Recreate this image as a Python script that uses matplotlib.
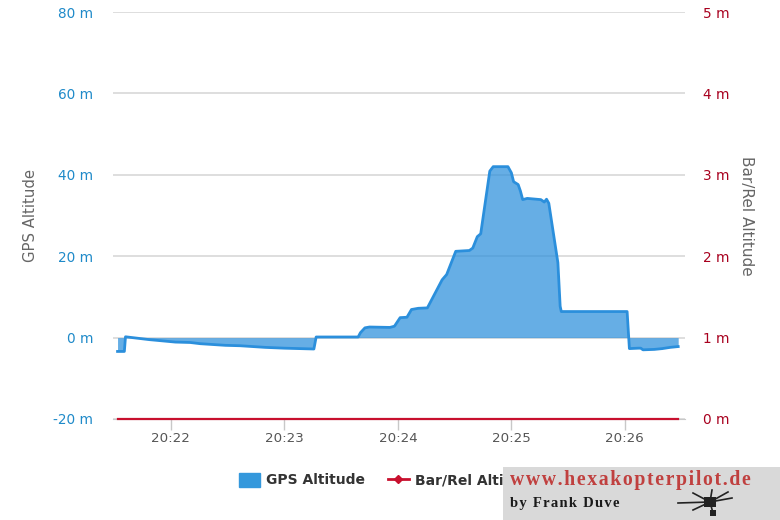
import matplotlib
matplotlib.use("Agg")
import matplotlib.pyplot as plt
from matplotlib.lines import Line2D
from matplotlib.patches import Patch, Rectangle, Circle

# minutes after 20:00
gps_time = [21.53, 21.59, 21.60, 21.81, 22.04, 22.17, 22.26, 22.48, 22.61, 22.83,
            23.00, 23.26, 23.28, 23.65, 23.67, 23.71, 23.75, 23.93, 23.97, 24.02,
            24.08, 24.12, 24.18, 24.26, 24.39, 24.43, 24.51, 24.63, 24.66, 24.70,
            24.73, 24.81, 24.84, 24.97, 25.00, 25.02, 25.06, 25.08, 25.10, 25.14,
            25.26, 25.29, 25.31, 25.33, 25.41, 25.43, 25.44, 26.02, 26.04, 26.12,
            26.14, 26.16, 26.26, 26.33, 26.40, 26.47]
gps_alt = [-3.4, -3.4, 0.2, -0.5, -1.1, -1.2, -1.5, -1.9, -2.0, -2.4,
           -2.6, -2.8, 0.15, 0.15, 1.2, 2.4, 2.6, 2.5, 2.8, 4.9,
           5.0, 6.9, 7.2, 7.3, 14.2, 15.5, 21.2, 21.4, 22.0, 24.8,
           25.5, 40.9, 42.0, 42.0, 40.5, 38.3, 37.6, 36.0, 33.9, 34.2,
           33.9, 33.3, 34.0, 33.0, 18.4, 7.7, 6.4, 6.4, -2.7, -2.6,
           -2.6, -3.0, -2.9, -2.7, -2.4, -2.2]
bar_time = [21.53, 26.47]
bar_alt = [0, 0]

left_ticks = [-20, 0, 20, 40, 60, 80]
right_ticks = [0, 1, 2, 3, 4, 5]
time_ticks = [22, 23, 24, 25, 26]
time_labels = ["20:22", "20:23", "20:24", "20:25", "20:26"]

GPS_COL = "#2b8fdc"
BAR_COL = "#c8102e"
LEFT_COL = "#1f8ac9"
RIGHT_COL = "#a8001e"
GREY = "#666666"

fig = plt.figure(figsize=(7.8, 5.2), dpi=100)
ax = fig.add_axes([113 / 780, 1 - 419 / 520, 572 / 780, 407 / 520])

ax.fill_between(gps_time, gps_alt, 0, color=GPS_COL, alpha=0.72, lw=0, zorder=3)
ax.plot(gps_time, gps_alt, color=GPS_COL, lw=2.0, zorder=4)

ax.set_xlim(21.49, 26.53)
ax.set_ylim(-20, 80)
ax.set_yticks(left_ticks)
ax.set_yticklabels([f"{v} m" for v in left_ticks], color=LEFT_COL, fontsize=9.8)
ax.set_xticks(time_ticks)
ax.set_xticklabels(time_labels, color="#555555", fontsize=9.6)
ax.grid(axis="y", color="#d8d8d8", lw=1.2, zorder=1)
ax.tick_params(axis="y", length=0, pad=14.4)
ax.tick_params(axis="x", length=8, width=1, color="#c8c8c8", pad=1)
ax.set_ylabel("GPS Altitude", color=GREY, fontsize=10.7, va="center")
ax.yaxis.set_label_coords(-0.145, 0.5)
for s in ["top", "left", "right"]:
    ax.spines[s].set_visible(False)
ax.spines["bottom"].set_color("#c8c8c8")

ax2 = ax.twinx()
ax2.plot(bar_time, bar_alt, color=BAR_COL, lw=1.6, clip_on=False, zorder=5)
ax2.set_ylim(0, 5)
ax2.set_yticks(right_ticks)
ax2.set_yticklabels([f"{v} m" for v in right_ticks], color=RIGHT_COL, fontsize=9.8)
ax2.tick_params(axis="y", length=0, pad=13)
ax2.set_ylabel("Bar/Rel Altitude", color=GREY, fontsize=11, rotation=270, va="center")
ax2.yaxis.set_label_coords(1.108, 0.5)
for s in ["top", "left", "right", "bottom"]:
    ax2.spines[s].set_visible(False)

handles = [Patch(facecolor="#3498dc", edgecolor="#3498dc"),
           Line2D([], [], color=BAR_COL, lw=2, marker="D", ms=4.5)]
leg = fig.legend(handles, ["GPS Altitude", "Bar/Rel Altitude"], ncol=2, frameon=False,
                 loc="center left", bbox_to_anchor=(239 / 780, 1 - 480 / 520),
                 prop={"size": 10, "weight": "bold"}, labelcolor="#333333",
                 borderpad=0, borderaxespad=0,
                 handlelength=1.5, handleheight=1.2, handletextpad=0.45, columnspacing=1.65)

# watermark box over the legend
fig.add_artist(Rectangle((503 / 780, 0), 277 / 780, 53 / 520, transform=fig.transFigure,
                         facecolor="#d9d9d9", edgecolor="none", zorder=10))
fig.text(510 / 780, 1 - 480 / 520, "\u200a".join("www.hexakopterpilot.de"),
         family="Liberation Serif", weight="bold", fontsize=14.2, color="#c0403f",
         va="center", ha="left", zorder=11)
fig.text(510 / 780, 1 - 503 / 520, "\u200a".join("by Frank Duve"), family="Liberation Serif",
         weight="bold", fontsize=10.5, color="#1a1a1a", va="center", ha="left", zorder=11)

# small drone icon in the watermark
hub = (710, 502)
for end in [(678, 503), (693, 493), (712, 490), (728, 492), (732, 498), (693, 510), (713, 513)]:
    fig.add_artist(Line2D([hub[0] / 780, end[0] / 780], [1 - hub[1] / 520, 1 - end[1] / 520],
                          color="#222222", lw=1.2, zorder=12, transform=fig.transFigure))
fig.add_artist(Rectangle((704 / 780, 1 - 507 / 520), 12 / 780, 10 / 520, transform=fig.transFigure,
                         facecolor="#222222", edgecolor="none", zorder=12))
fig.add_artist(Rectangle((710 / 780, 1 - 516 / 520), 6 / 780, 6 / 520, transform=fig.transFigure,
                         facecolor="#222222", edgecolor="none", zorder=12))

fig.savefig("out.png", dpi=100)
